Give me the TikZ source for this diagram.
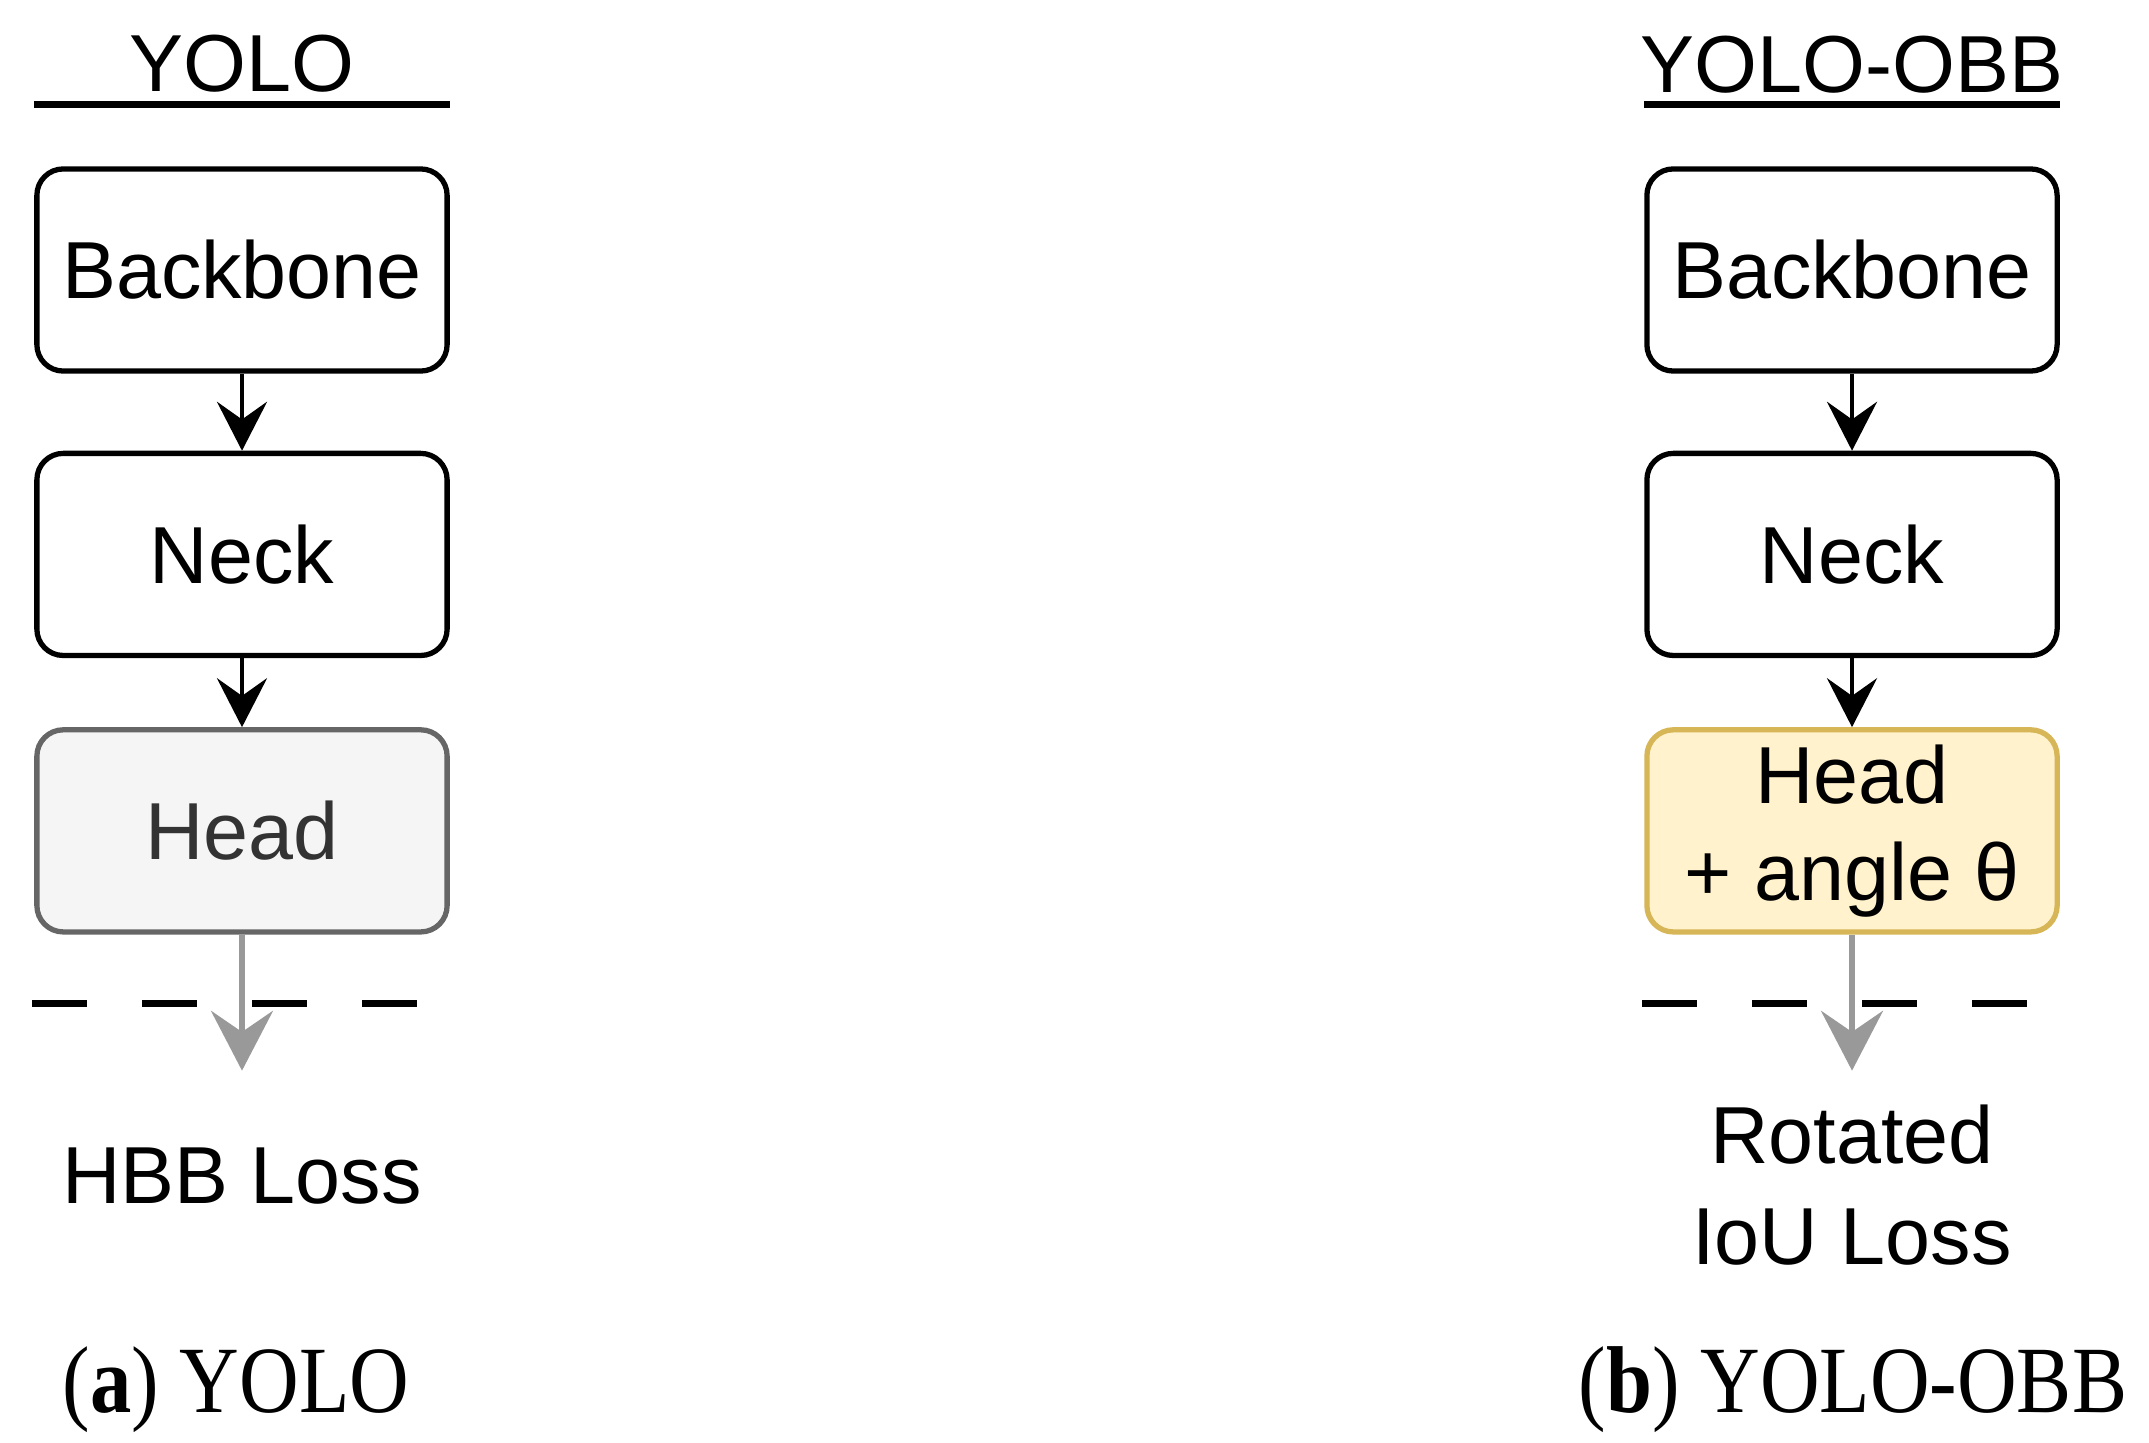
\documentclass[tikz,border=0pt]{standalone}
\usepackage{fontspec}
\setmainfont{Liberation Sans}
\newfontfamily\capfont[FakeStretch=0.87]{Liberation Serif}
\usepackage{tikz}
\usetikzlibrary{positioning,arrows.meta}
\definecolor{plainfill}{HTML}{F5F5F5}
\definecolor{plainline}{HTML}{666666}
\definecolor{plaintext}{HTML}{333333}
\definecolor{obbfill}{HTML}{FFF2CC}
\definecolor{obbline}{HTML}{D6B656}
\definecolor{lossgray}{HTML}{999999}

\begin{document}
\begin{tikzpicture}[x=0.01cm, y=-0.01cm,
            font=\fontsize{23}{28.5}\selectfont,
            block/.style = {shape=rectangle, rounded corners=7.5pt,
                            draw, line width=1.5pt, align=center,
                            minimum width=4.1cm, minimum height=2.02cm,
                            inner sep=0pt, fill=white},
            plainhead/.style = {block, fill=plainfill, draw=plainline, text=plaintext},
            obbhead/.style = {block, fill=obbfill, draw=obbline},
            flow/.style = {line width=1.4pt, -{Stealth[length=13.9pt, width=14.2pt, inset=5pt]}},
            lossflow/.style = {line width=1.6pt, draw=lossgray,
                               -{Stealth[length=17pt, width=17.6pt, inset=6pt]}},
            cutline/.style = {line width=1.8pt, dash pattern=on 15.65pt off 15.65pt},
            titlerule/.style = {line width=1.9pt},
            caption/.style = {anchor=base, font=\capfont\fontsize{27}{30}\selectfont}]
    \useasboundingbox (0,0) rectangle (2149,1443);

    % (a) YOLO
    \node[anchor=base] (titleA) at (242,92) {YOLO};
    \node[block] (bbA) at (242,270) {Backbone};
    \node[block, below=0.77cm of bbA] (neckA) {Neck};
    \node[plainhead, below=0.69cm of neckA] (headA) {Head};
    \draw[titlerule] ([yshift=0.62cm]bbA.north west) -- ([yshift=0.62cm]bbA.north east);
    \draw[flow] (bbA) -- (neckA);
    \draw[flow] (neckA) -- (headA);
    \draw[cutline] ([yshift=-0.69cm, xshift=-0.02cm]headA.south west) -- ++(385,0);
    \coordinate (tipA) at ([yshift=-1.36cm]headA.south);
    \draw[lossflow] (headA) -- (tipA);
    \node[anchor=base] (lossA) at (242,1203) {HBB Loss};
    \node[caption] (capA) at (236,1412) {(\textbf{a}) YOLO};

    % (b) YOLO-OBB
    \node[anchor=base] (titleB) at (1852,93) {YOLO-OBB};
    \node[block] (bbB) at (1852,270) {Backbone};
    \node[block, below=0.77cm of bbB] (neckB) {Neck};
    \node[obbhead, below=0.69cm of neckB] (headB) {\raisebox{-4pt}{Head}\\\raisebox{-3pt}{+ angle θ}};
    \draw[titlerule] ([yshift=0.62cm]bbB.north west) -- ([yshift=0.62cm]bbB.north east);
    \draw[flow] (bbB) -- (neckB);
    \draw[flow] (neckB) -- (headB);
    \draw[cutline] ([yshift=-0.69cm, xshift=-0.02cm]headB.south west) -- ++(385,0);
    \coordinate (tipB) at ([yshift=-1.36cm]headB.south);
    \draw[lossflow] (headB) -- (tipB);
    \node[anchor=base, align=center] (lossB) at (1852,1264) {Rotated\\IoU Loss};
    \node[caption] (capB) at (1853,1412) {(\textbf{b}) YOLO-OBB};
\end{tikzpicture}
\end{document}
